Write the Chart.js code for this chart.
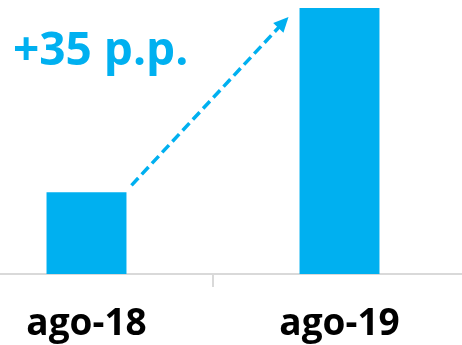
<!DOCTYPE html>
<html>
<head>
<meta charset="utf-8">
<script src="https://cdn.jsdelivr.net/npm/chart.js@4"></script>
<style>
  html, body { margin: 0; padding: 0; background: #fff; overflow: hidden; }
  body { width: 462px; height: 345px; position: relative; overflow: hidden; }
  #wrap { position: absolute; left: -40px; top: 0; width: 506px; height: 361px; }
</style>
</head>
<body>
<div id="wrap"><canvas id="chart" width="506" height="361"></canvas></div>
<script>
// --- data ---
const categories = ['ago-18', 'ago-19'];
const values = [15.5, 50.5];
const changeLabel = '+35 p.p.';

const BLUE = '#00B0F0';

// dashed arrow between the bar tops + the change label
const arrowPlugin = {
    id: 'arrowPlugin',
    afterDatasetsDraw(chart) {
        const ctx = chart.ctx;
        const bars = chart.getDatasetMeta(0).data;
        const b1 = bars[0], b2 = bars[1];

        const x0 = b1.x + b1.width / 2 + 5;
        const y0 = b1.y - 7;
        const x1 = b2.x - b2.width / 2 - 11;
        const y1 = b2.y + 9;
        const ang = Math.atan2(y1 - y0, x1 - x0);
        const headLen = 15;

        ctx.save();
        ctx.strokeStyle = BLUE;
        ctx.fillStyle = BLUE;
        ctx.lineWidth = 3.5;
        ctx.setLineDash([10, 5]);
        ctx.beginPath();
        ctx.moveTo(x0, y0);
        ctx.lineTo(x1 - Math.cos(ang) * (headLen - 2), y1 - Math.sin(ang) * (headLen - 2));
        ctx.stroke();
        ctx.setLineDash([]);

        ctx.beginPath();
        ctx.moveTo(x1, y1);
        ctx.lineTo(x1 - headLen * Math.cos(ang) + 7 * Math.sin(ang), y1 - headLen * Math.sin(ang) - 7 * Math.cos(ang));
        ctx.lineTo(x1 - headLen * Math.cos(ang) - 7 * Math.sin(ang), y1 - headLen * Math.sin(ang) + 7 * Math.cos(ang));
        ctx.closePath();
        ctx.fill();

        ctx.font = "bold 46px 'Open Sans', sans-serif";
        ctx.textAlign = 'left';
        ctx.textBaseline = 'alphabetic';
        ctx.fillText(changeLabel, 53, 65);
        ctx.restore();
    }
};

const ctx = document.getElementById('chart');
new Chart(ctx, {
    type: 'bar',
    data: {
        labels: categories,
        datasets: [{
            data: values,
            backgroundColor: BLUE,
            borderWidth: 0,
            categoryPercentage: 1,
            barPercentage: 0.316
        }]
    },
    options: {
        responsive: false,
        animation: false,
        layout: { padding: 0 },
        plugins: {
            legend: { display: false },
            tooltip: { enabled: false }
        },
        scales: {
            x: {
                grid: {
                    drawOnChartArea: false,
                    drawTicks: true,
                    tickLength: 13,
                    color: '#d9d9d9',
                    lineWidth: 2
                },
                border: { color: '#d9d9d9', width: 2 },
                ticks: {
                    color: '#000',
                    padding: 14.8,
                    font: { family: "'Open Sans', sans-serif", size: 37, weight: 'bold' }
                }
            },
            y: {
                display: false,
                min: 0,
                max: 52
            }
        }
    },
    plugins: [arrowPlugin]
});
</script>
</body>
</html>
